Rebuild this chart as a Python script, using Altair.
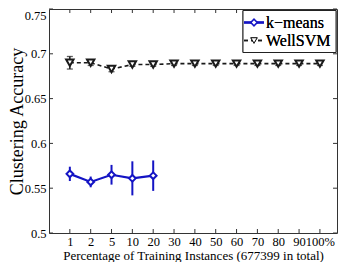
import altair as alt
import pandas as pd

categories = ["1", "2", "5", "10", "20", "30", "40", "50", "60", "70", "80", "90", "100%"]
km_mean = [0.566, 0.557, 0.565, 0.561, 0.564]
km_err = [0.008, 0.006, 0.011, 0.019, 0.017]
ws_mean = [0.690, 0.690, 0.683, 0.688, 0.688, 0.689, 0.689, 0.689, 0.689, 0.689, 0.689, 0.689, 0.689]
ws_err = [0.007, 0.003, 0.003, 0.002, 0.002, 0.002, 0.002, 0.002, 0.002, 0.002, 0.002, 0.002, 0.002]
yticks = [0.5, 0.55, 0.6, 0.65, 0.7, 0.75]
legend_labels = ["k\u2212means", "WellSVM"]

BLUE = "#1414c4"
BLACK = "#1a1a1a"
FONT = "Liberation Serif, Times New Roman, Tinos, DejaVu Serif, serif"
W, H = 288, 224

idx = list(range(len(categories)))
km = pd.DataFrame({"i": idx[:len(km_mean)], "acc": km_mean,
                   "lo": [m - e for m, e in zip(km_mean, km_err)],
                   "hi": [m + e for m, e in zip(km_mean, km_err)]})
ws = pd.DataFrame({"i": idx, "acc": ws_mean,
                   "lo": [m - e for m, e in zip(ws_mean, ws_err)],
                   "hi": [m + e for m, e in zip(ws_mean, ws_err)]})
ytk = pd.DataFrame({"acc": yticks})
xtk = pd.DataFrame({"i": idx})

label_js = "[" + ",".join("'" + c + "'" for c in categories) + "][datum.value]"

xscale = alt.Scale(domain=[-1.0, len(categories) - 1 + 0.82], nice=False, zero=False)
yscale = alt.Scale(domain=[0.5, 0.75], nice=False, zero=False)

xaxis = alt.Axis(title="Percentage of Training Instances (677399 in total)",
                 values=idx, labelExpr=label_js,
                 labelAngle=0, ticks=False, domain=False, labelPadding=2,
                 titlePadding=1.5, labelFontSize=12.5, titleFontSize=13,
                 labelFlush=False, labelOverlap=False, grid=False)
yaxis = alt.Axis(title="Clustering Accuracy", values=yticks, format=".2~f",
                 ticks=False, domain=False, labelPadding=3,
                 labelBaseline={"condition": {"test": "datum.value > 0.74", "value": "top"},
                                "value": "middle"},
                 titleX=-27, titleY=H / 2, titleAngle=270, titleAlign="center",
                 titleBaseline="alphabetic",
                 labelFontSize=12.5, titleFontSize=18, grid=False)

Xp = alt.X("i:Q", scale=xscale, axis=xaxis)
def Yp(f):
    return alt.Y(f, scale=yscale, axis=yaxis)

# inward ticks (MATLAB box style)
left_t = alt.Chart(ytk).mark_rule(color="#333", strokeWidth=1).encode(
    y=Yp("acc:Q"), x=alt.value(0), x2=alt.value(4))
right_t = alt.Chart(ytk).mark_rule(color="#333", strokeWidth=1).encode(
    y=Yp("acc:Q"), x=alt.value(W - 4), x2=alt.value(W))
bot_t = alt.Chart(xtk).mark_rule(color="#333", strokeWidth=1).encode(
    x=Xp, y=alt.value(H - 4), y2=alt.value(H))
top_t = alt.Chart(xtk).mark_rule(color="#333", strokeWidth=1).encode(
    x=Xp, y=alt.value(0), y2=alt.value(4))

ws_bar = alt.Chart(ws).mark_rule(color=BLACK, strokeWidth=1.5).encode(
    x=Xp, y=Yp("lo:Q"), y2="hi:Q")
ws_cap_lo = alt.Chart(ws).mark_tick(color=BLACK, size=6, thickness=1.3, orient="horizontal").encode(
    x=Xp, y=Yp("lo:Q"))
ws_cap_hi = alt.Chart(ws).mark_tick(color=BLACK, size=6, thickness=1.3, orient="horizontal").encode(
    x=Xp, y=Yp("hi:Q"))
ws_line = alt.Chart(ws).mark_line(color=BLACK, strokeWidth=1.6, strokeDash=[4, 3]).encode(
    x=Xp, y=Yp("acc:Q"))
ws_pt = alt.Chart(ws).mark_point(shape="triangle-down", filled=True, fill="white",
                                 stroke=BLACK, strokeWidth=2, size=55, opacity=1).encode(
    x=Xp, y=Yp("acc:Q"))

km_bar = alt.Chart(km).mark_rule(color=BLUE, strokeWidth=2).encode(
    x=Xp, y=Yp("lo:Q"), y2="hi:Q")
km_line = alt.Chart(km).mark_line(color=BLUE, strokeWidth=2.2).encode(
    x=Xp, y=Yp("acc:Q"))
km_pt = alt.Chart(km).mark_point(shape="diamond", filled=True, fill="white",
                                 stroke=BLUE, strokeWidth=2, size=45, opacity=1).encode(
    x=Xp, y=Yp("acc:Q"))

# legend
leg = pd.DataFrame({"label": legend_labels})
leg_box = alt.Chart(leg).mark_rect(fill="white", stroke="#222", strokeWidth=1).encode(
    x=alt.value(194), x2=alt.value(287), y=alt.value(1.5), y2=alt.value(43.5))
leg_l1 = alt.Chart(leg).mark_rule(color=BLUE, strokeWidth=2.2).encode(
    x=alt.value(195), x2=alt.value(215), y=alt.value(13.5))
leg_p1 = alt.Chart(leg).mark_point(shape="diamond", filled=True, fill="white", stroke=BLUE,
                                   strokeWidth=1.4, size=40, opacity=1).encode(
    x=alt.value(205), y=alt.value(13.5))
leg_l2 = alt.Chart(leg).mark_rule(color=BLACK, strokeWidth=1.6, strokeDash=[4, 3]).encode(
    x=alt.value(195), x2=alt.value(215), y=alt.value(31.5))
leg_p2 = alt.Chart(leg).mark_point(shape="triangle-down", filled=True, fill="white", stroke=BLACK,
                                   strokeWidth=1, size=40, opacity=1).encode(
    x=alt.value(205), y=alt.value(31.5))
leg_t1 = alt.Chart(leg).mark_text(align="left", baseline="middle", font=FONT, fontSize=16,
                                  color="black").encode(
    x=alt.value(217), y=alt.value(13.5), text=alt.value(legend_labels[0]))
leg_t2 = alt.Chart(leg).mark_text(align="left", baseline="middle", font=FONT, fontSize=16,
                                  color="black").encode(
    x=alt.value(217), y=alt.value(31.5), text=alt.value(legend_labels[1]))

chart = alt.layer(
    ws_line, left_t, right_t, bot_t, top_t,
    ws_bar, ws_cap_lo, ws_cap_hi, ws_pt,
    km_bar, km_line, km_pt,
    leg_box, leg_l1, leg_p1, leg_l2, leg_p2, leg_t1, leg_t2,
).properties(
    width=W, height=H,
    autosize=alt.AutoSizeParams(type="none"),
    padding={"left": 41, "top": 1, "right": 1, "bottom": 29},
).configure_view(stroke="#333", strokeWidth=1).configure_axis(
    labelFont=FONT, titleFont=FONT, labelColor="black", titleColor="black",
    titleFontWeight="normal", grid=False,
)

chart.save("out.html", embed_options={"renderer": "svg", "actions": False})
